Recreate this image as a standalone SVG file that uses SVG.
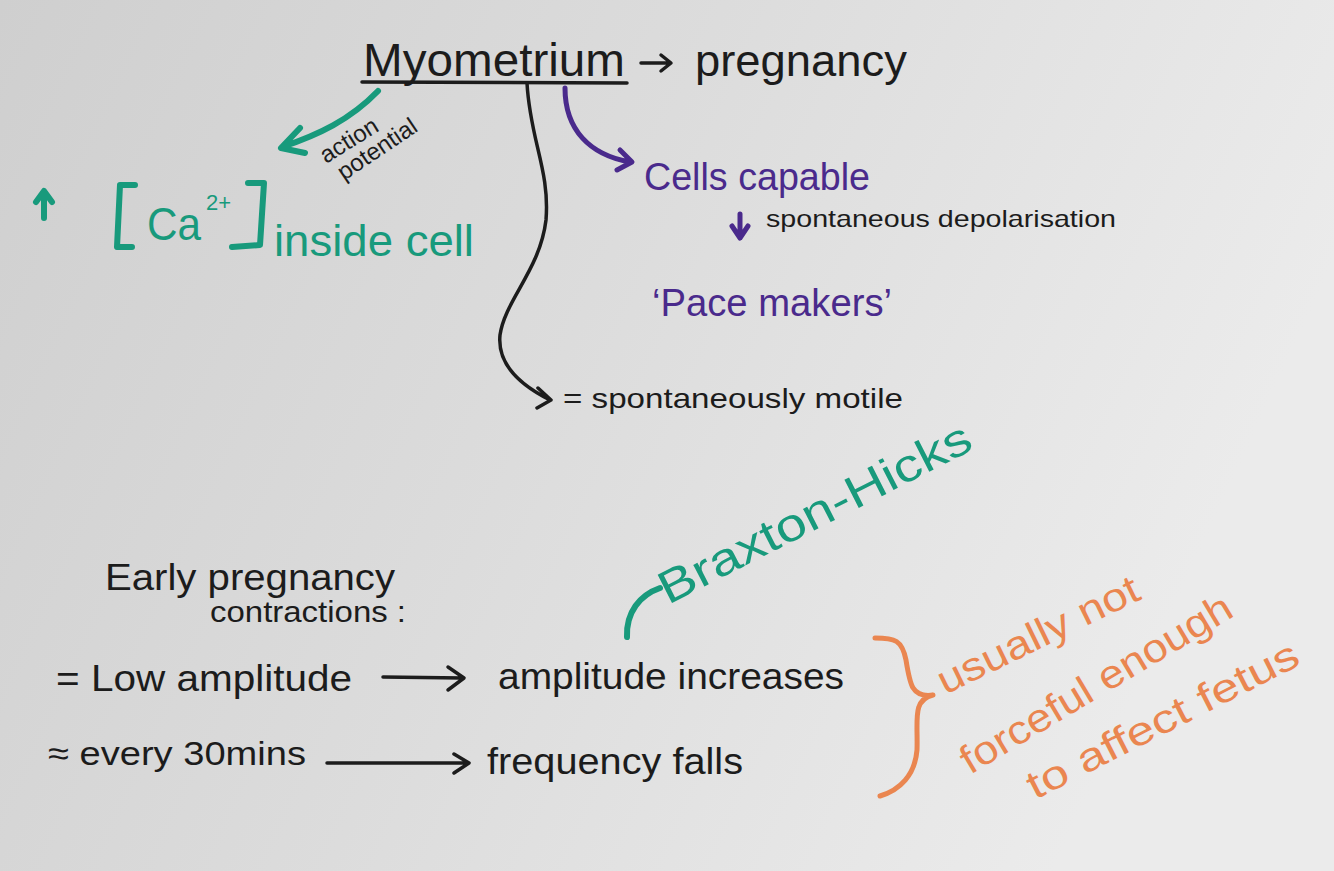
<svg xmlns="http://www.w3.org/2000/svg" width="1334" height="871" viewBox="0 0 1334 871">
<defs>
<linearGradient id="bg" x1="0" y1="0" x2="1" y2="0.3">
<stop offset="0" stop-color="#cfcfcf"/>
<stop offset="0.5" stop-color="#dcdcdc"/>
<stop offset="1" stop-color="#ebebeb"/>
</linearGradient>
<style>
text{font-family:"Liberation Sans","DejaVu Sans",sans-serif;}
.k{fill:#1c1c1c;}
.g{fill:#189a7c;}
.p{fill:#4a2a8c;}
.o{fill:#ea8650;}
.lk{fill:none;stroke:#1c1c1c;stroke-width:3.5;stroke-linecap:round;stroke-linejoin:round;}
.lg{fill:none;stroke:#189a7c;stroke-width:6;stroke-linecap:round;stroke-linejoin:round;}
.lp{fill:none;stroke:#4a2a8c;stroke-width:5;stroke-linecap:round;stroke-linejoin:round;}
.lo{fill:none;stroke:#ea8650;stroke-width:5;stroke-linecap:round;stroke-linejoin:round;}
</style>
</defs>
<rect width="1334" height="871" fill="url(#bg)"/>

<g id="myometrium">
<text class="k" x="363" y="76" font-size="46" textLength="262" lengthAdjust="spacingAndGlyphs">Myometrium</text>
<path class="lk" d="M362,82 L627,83" stroke-width="5"/>
</g>
<g id="pregnancy">
<text class="k" x="695" y="76" font-size="44" textLength="212" lengthAdjust="spacingAndGlyphs">pregnancy</text>
</g>

<g id="calcium">
<path class="lg" d="M44,218 L44,192 M36,202 L44,191 L52,202" stroke-width="5"/>
<path class="lg" d="M135,185 L120,185 L117,247 L132,247" stroke-width="7"/>
<text class="g" x="147" y="240" font-size="46" textLength="54" lengthAdjust="spacingAndGlyphs">Ca</text>
<text class="g" x="206" y="210" font-size="22">2+</text>
<path class="lg" d="M248,183 L264,183 L260,245 L232,247" stroke-width="7"/>
<text class="g" x="274" y="256" font-size="44" textLength="200" lengthAdjust="spacingAndGlyphs">inside cell</text>
</g>

<g id="action-potential">
<text class="k" font-size="24" transform="translate(326,164) rotate(-32)">action</text>
<text class="k" font-size="24" transform="translate(344,181) rotate(-34)">potential</text>
</g>

<g id="cells-capable">
<text class="p" x="644" y="190" font-size="38" textLength="226" lengthAdjust="spacingAndGlyphs">Cells capable</text>
<path class="lp" d="M740,214 L740,236 M732,226 L740,238 L748,226" stroke-width="4"/>
<text class="k" x="766" y="227" font-size="24" textLength="350" lengthAdjust="spacingAndGlyphs">spontaneous depolarisation</text>
</g>

<g id="pacemakers">
<text class="p" x="652" y="316" font-size="38" textLength="240" lengthAdjust="spacingAndGlyphs">‘Pace makers’</text>
</g>

<g id="motile">
<text class="k" x="563" y="408" font-size="28" textLength="340" lengthAdjust="spacingAndGlyphs">= spontaneously motile</text>
</g>

<g id="early">
<text class="k" x="105" y="590" font-size="36" textLength="290" lengthAdjust="spacingAndGlyphs">Early pregnancy</text>
<text class="k" x="210" y="622" font-size="30" textLength="196" lengthAdjust="spacingAndGlyphs">contractions :</text>
</g>

<g id="low-amp">
<text class="k" x="56" y="691" font-size="36" textLength="296" lengthAdjust="spacingAndGlyphs">= Low amplitude</text>
</g>
<g id="amp-inc">
<text class="k" x="498" y="689" font-size="36" textLength="346" lengthAdjust="spacingAndGlyphs">amplitude increases</text>
</g>
<g id="every30">
<text class="k" x="48" y="765" font-size="34" textLength="258" lengthAdjust="spacingAndGlyphs">≈ every 30mins</text>
</g>
<g id="freq">
<text class="k" x="487" y="774" font-size="36" textLength="256" lengthAdjust="spacingAndGlyphs">frequency falls</text>
</g>

<g id="braxton">
<path class="lg" d="M627,637 C626,612 640,595 660,588" stroke-width="5"/>
<text class="g" font-size="46" transform="translate(668,605) rotate(-27)" textLength="345" lengthAdjust="spacingAndGlyphs">Braxton-Hicks</text>
</g>

<g id="usually">
<path class="lo" d="M875,638 C895,638 902,640 906,660 C910,685 912,698 933,695 C912,700 918,720 917,750 C915,775 900,790 880,796"/>
<text class="o" font-size="40" transform="translate(945,695) rotate(-26)" textLength="220" lengthAdjust="spacingAndGlyphs">usually not</text>
<text class="o" font-size="40" transform="translate(970,775) rotate(-31)" textLength="310" lengthAdjust="spacingAndGlyphs">forceful enough</text>
<text class="o" font-size="40" transform="translate(1035,800) rotate(-27)" textLength="300" lengthAdjust="spacingAndGlyphs">to affect fetus</text>
</g>

<g id="connectors">
<path class="lk" d="M641,63 L670,63 M661,55 L671,63 L661,71"/>
<path class="lg" d="M378,91 C350,120 318,135 282,147 M300,128 L281,148 L305,153"/>
<path class="lp" d="M565,88 C565,130 590,155 630,162 M620,150 L632,162 L617,170"/>
<path class="lk" d="M527,83 C530,140 550,170 546,220 C540,270 505,300 500,335 C497,365 520,385 550,400 M538,388 L551,400 L537,408" stroke-width="3"/>
<path class="lk" d="M383,677 L462,678 M448,667 L464,678 L448,690"/>
<path class="lk" d="M327,763 L468,763 M454,754 L469,763 L454,773"/>
</g>
</svg>
